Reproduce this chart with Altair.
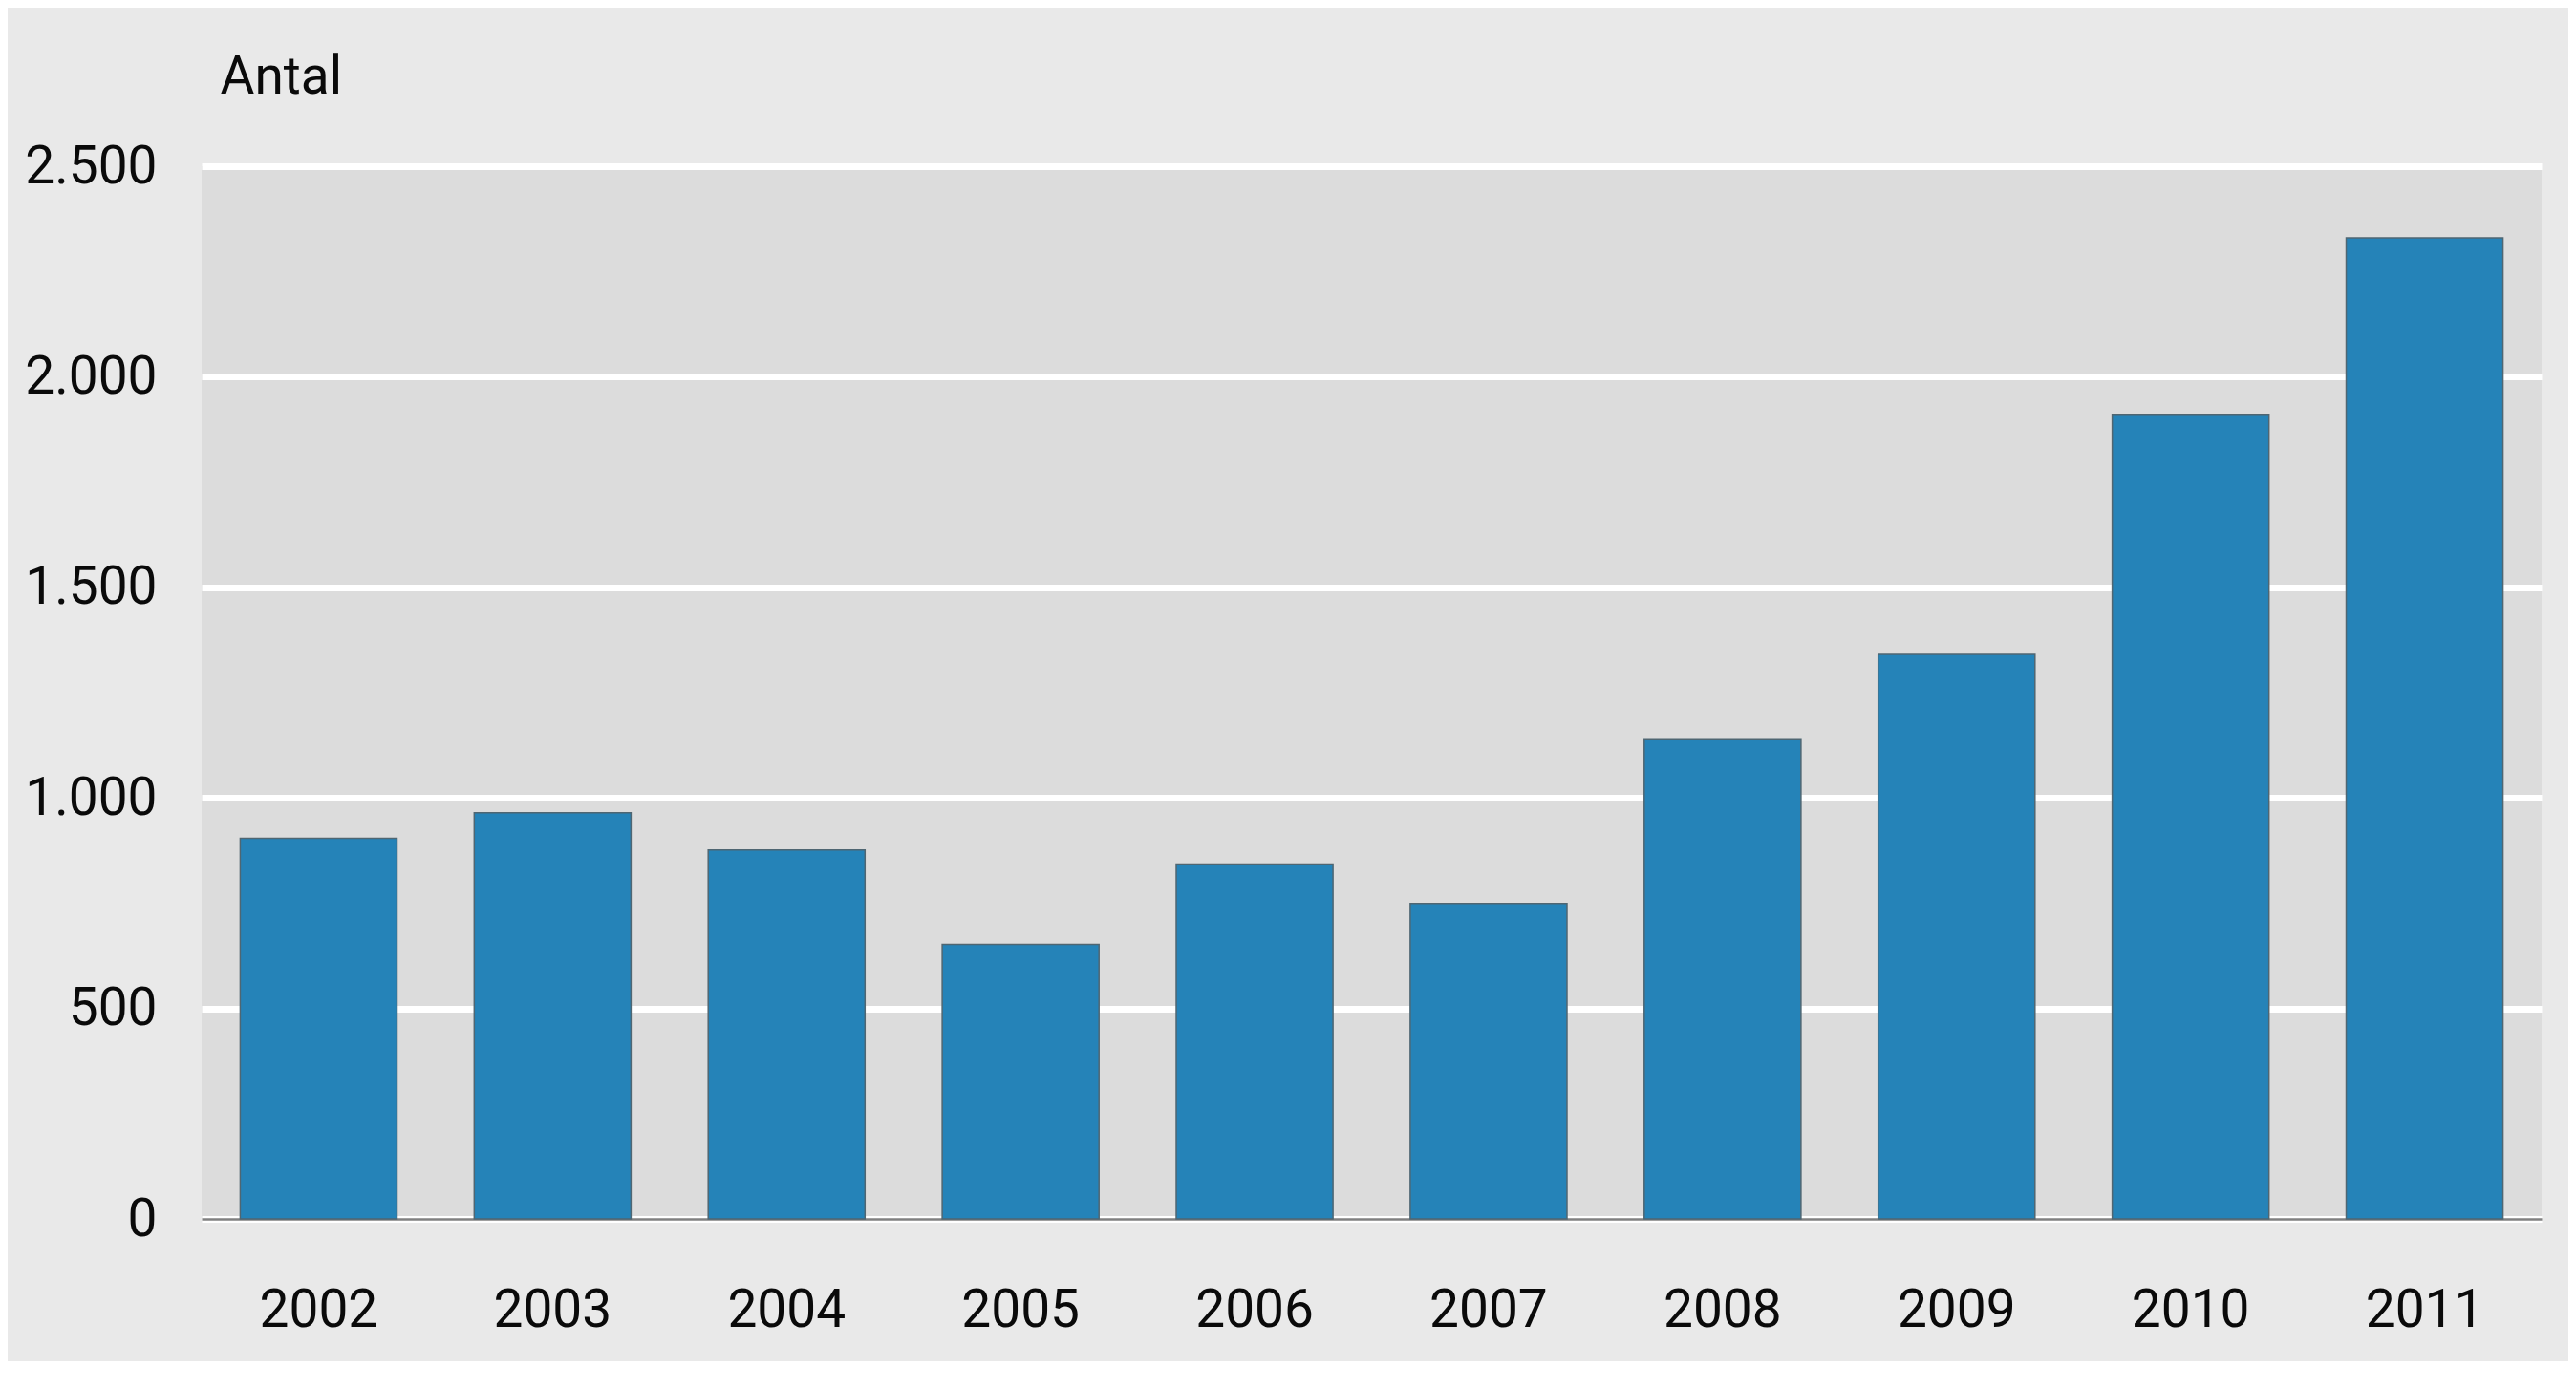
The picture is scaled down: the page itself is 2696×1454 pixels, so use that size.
import altair as alt
import pandas as pd

years = ["2002", "2003", "2004", "2005", "2006", "2007", "2008", "2009", "2010", "2011"]
antal = [904, 965, 876, 652, 843, 749, 1138, 1341, 1911, 2330]
y_ticks = [0, 500, 1000, 1500, 2000, 2500]

df = pd.DataFrame({"year": years, "antal": antal})

FONT = "Roboto"
FS = 55

bars = alt.Chart(df).mark_bar(
    color="#2583b8", stroke="#4f6672", strokeWidth=1.5
).encode(
    x=alt.X("year:N", sort=years,
            scale=alt.Scale(paddingInner=0.33, paddingOuter=0.165),
            axis=alt.Axis(title=None, labelAngle=0, ticks=False, grid=False,
                          domain=True, domainColor="#808080", domainWidth=2.5,
                          labelFont=FONT, labelFontSize=FS, labelColor="#0a0a0a",
                          labelBaseline="middle", labelPadding=95)),
    y=alt.Y("antal:Q", scale=alt.Scale(domain=[0, 2500], nice=False),
            axis=alt.Axis(title="Antal", values=y_ticks, domain=False, ticks=False,
                          grid=True, gridColor="#ffffff", gridWidth=7,
                          labelExpr="replace(format(datum.value, ',d'), ',', '.')",
                          labelFont=FONT, labelFontSize=FS, labelColor="#0a0a0a",
                          labelPadding=47, labelBaseline="middle",
                          titleAngle=0, titleAlign="left", titleBaseline="middle",
                          titleX=19, titleY=-94, titleFont=FONT, titleFontSize=FS,
                          titleFontWeight="normal", titleColor="#0a0a0a")),
)

chart = bars.properties(
    width=2449, height=1102,
    autosize=alt.AutoSizeParams(type="none"),
    padding={"left": 203, "top": 166, "right": 28, "bottom": 149},
    background="#e9e9e9",
).configure_view(fill="#dcdcdc", stroke=None)

chart.save("out.html", embed_options={"renderer": "svg", "actions": False})
